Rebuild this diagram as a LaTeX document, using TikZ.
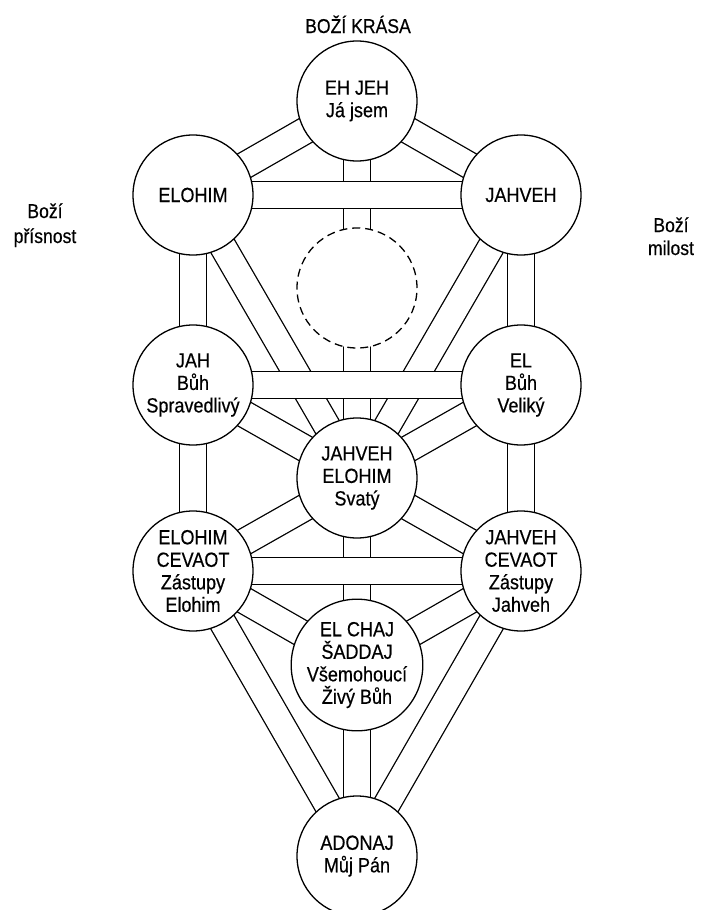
\documentclass[tikz,border=0pt]{standalone}
\usepackage{fontspec}
\setmainfont[FakeStretch=0.88,FakeBold=0.4]{Liberation Sans}
\usetikzlibrary{backgrounds}
\begin{document}
\begin{tikzpicture}[x=1pt,y=-1pt,
  sef/.style={circle,draw,line width=1.3pt,fill=white,minimum size=120pt,inner sep=0pt,
    align=center,font=\fontsize{20.5}{22.5}\selectfont},
  daat/.style={circle,draw,line width=1.3pt,fill=white,minimum size=120pt,inner sep=0pt,
    dash pattern=on 8pt off 5pt},
  band/.style={double=white,double distance=25.5pt,line width=1.3pt},
  lbl/.style={anchor=base,font=\fontsize{20}{22}\selectfont}]
\useasboundingbox (0,0) rectangle (701,910);
\clip (0,0) rectangle (701,910);

% sefirot
\node[sef] (k) at (357,101) {EH JEH\\Já jsem};
\node[sef] (b) at (193,195) {ELOHIM};
\node[sef] (c) at (521,195) {JAHVEH};
\node[daat] (d) at (357,288) {};
\node[sef] (g) at (193,385) {JAH\\Bůh\\Spravedlivý};
\node[sef] (ch) at (521,385) {EL\\Bůh\\Veliký};
\node[sef] (t) at (357,478) {JAHVEH\\ELOHIM\\Svatý};
\node[sef] (h) at (193,571) {ELOHIM\\CEVAOT\\Zástupy\\Elohim};
\node[sef] (n) at (521,571) {JAHVEH\\CEVAOT\\Zástupy\\Jahveh};
\node[sef] (y) at (357,665) {EL CHAJ\\ŠADDAJ\\Všemohoucí\\Živý Bůh};
\node[sef] (m) at (357,856) {ADONAJ\\Můj Pán};

% labels
\node[lbl] (top) at (358,33) {BOŽÍ KRÁSA};
\node[lbl] (l1) at (45,218) {Boží};
\node[lbl] (l2) at (45,243) {přísnost};
\node[lbl] (r1) at (671,232) {Boží};
\node[lbl] (r2) at (671,255) {milost};

% paths
\begin{pgfonlayer}{background}
\foreach \a/\b in {k/b,k/c,k/t,b/g,c/ch,b/t,c/t,g/t,ch/t,g/h,ch/n,h/t,n/t,t/y,h/y,n/y,h/m,n/m,y/m}
  \draw[band] (\a.center) -- (\b.center);
\foreach \a/\b in {b/c,g/ch,h/n}
  \draw[band] (\a.center) -- (\b.center);
\end{pgfonlayer}
\end{tikzpicture}
\end{document}
